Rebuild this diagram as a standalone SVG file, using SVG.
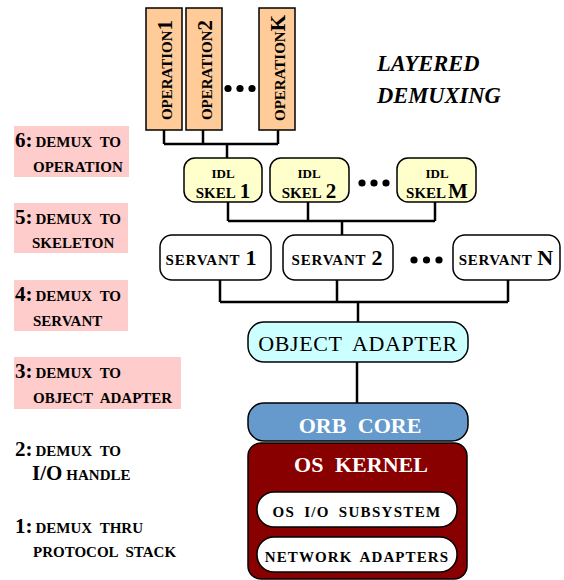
<svg xmlns="http://www.w3.org/2000/svg" width="564" height="580" viewBox="0 0 564 580">
<style>
  .t { font-family: "Liberation Serif", "Times New Roman", serif; font-weight: bold; fill: #000; }
  .big { font-size: 21px; }
  .sm { font-size: 15px; }
  .lbl { fill: #FFCCCC; }
  .op { fill: #FFCC99; stroke: #000; stroke-width: 1.5; }
  .skel { fill: #FFFFCC; stroke: #000; stroke-width: 1.5; }
  .srv { fill: #FFFFFF; stroke: #000; stroke-width: 1.5; }
  .conn { fill: none; stroke: #000; stroke-width: 2.5; }
  .dot { fill: #000; }
  .w { fill: #FFFFFF; }
</style>

<!-- Left labels -->
<g id="label6">
  <rect class="lbl" x="14" y="126" width="115" height="51"/>
  <text class="t" x="15" y="147"><tspan class="big">6:</tspan><tspan class="sm" dx="3" word-spacing="4">DEMUX TO</tspan></text>
  <text class="t sm" x="33" y="172">OPERATION</text>
</g>
<g id="label5">
  <rect class="lbl" x="14" y="203" width="114" height="50"/>
  <text class="t" x="15" y="224"><tspan class="big">5:</tspan><tspan class="sm" dx="3" word-spacing="4">DEMUX TO</tspan></text>
  <text class="t sm" x="32" y="248">SKELETON</text>
</g>
<g id="label4">
  <rect class="lbl" x="14" y="280" width="114" height="51"/>
  <text class="t" x="15" y="301"><tspan class="big">4:</tspan><tspan class="sm" dx="3" word-spacing="4">DEMUX TO</tspan></text>
  <text class="t sm" x="33" y="326">SERVANT</text>
</g>
<g id="label3">
  <rect class="lbl" x="14" y="357" width="167" height="52"/>
  <text class="t" x="15" y="378"><tspan class="big">3:</tspan><tspan class="sm" dx="3" word-spacing="4">DEMUX TO</tspan></text>
  <text class="t sm" x="33" y="403" word-spacing="4">OBJECT ADAPTER</text>
</g>
<g id="label2">
  <text class="t" x="15" y="456"><tspan class="big">2:</tspan><tspan class="sm" dx="3" word-spacing="4">DEMUX TO</tspan></text>
  <text class="t" x="32" y="480"><tspan class="big">I/O</tspan><tspan class="sm" dx="4">HANDLE</tspan></text>
</g>
<g id="label1">
  <text class="t" x="15" y="533"><tspan class="big">1:</tspan><tspan class="sm" dx="3" word-spacing="4">DEMUX THRU</tspan></text>
  <text class="t sm" x="33" y="557" word-spacing="4">PROTOCOL STACK</text>
</g>

<!-- Title -->
<g id="title">
  <text class="t" x="377" y="71" style="font-size:22.5px;font-style:italic">LAYERED</text>
  <text class="t" x="377" y="103" style="font-size:22.5px;font-style:italic">DEMUXING</text>
</g>

<!-- Connectors -->
<g id="connectors">
  <path class="conn" d="M164,130 V144 M203,130 V144 M278,130 V144 M164,144 H278 M227,144 V158"/>
  <path class="conn" d="M228,202 V221 M308,202 V221 M435,202 V221 M228,221 H435 M342,221 V235"/>
  <path class="conn" d="M220,280 V302 M337,280 V302 M508,280 V302 M220,302 H508 M358,302 V322"/>
  <path class="conn" d="M357,362 V403"/>
</g>

<!-- Operations -->
<g id="op1">
  <rect class="op" x="146" y="8" width="36" height="122"/>
  <text class="t" transform="translate(172,70) rotate(-90)" text-anchor="middle"><tspan class="sm">OPERATION</tspan><tspan style="font-size:21px">1</tspan></text>
</g>
<g id="op2">
  <rect class="op" x="186" y="8" width="36" height="122"/>
  <text class="t" transform="translate(212,70) rotate(-90)" text-anchor="middle"><tspan class="sm">OPERATION</tspan><tspan style="font-size:21px">2</tspan></text>
</g>
<g id="opdots">
  <circle class="dot" cx="228" cy="88.5" r="3.6"/>
  <circle class="dot" cx="240" cy="88.5" r="3.6"/>
  <circle class="dot" cx="252" cy="88.5" r="3.6"/>
</g>
<g id="opK">
  <rect class="op" x="259" y="8" width="36" height="122"/>
  <text class="t" transform="translate(285,68) rotate(-90)" text-anchor="middle"><tspan class="sm">OPERATION</tspan><tspan style="font-size:21px">K</tspan></text>
</g>

<!-- Skeletons -->
<g id="skel1">
  <rect class="skel" x="184" y="158" width="78" height="44" rx="11"/>
  <text class="t" x="223" y="178" text-anchor="middle" style="font-size:13px">IDL</text>
  <text class="t" x="223" y="198" text-anchor="middle"><tspan class="sm">SKEL</tspan><tspan dx="4" style="font-size:21px">1</tspan></text>
</g>
<g id="skel2">
  <rect class="skel" x="270" y="158" width="79" height="44" rx="11"/>
  <text class="t" x="309" y="178" text-anchor="middle" style="font-size:13px">IDL</text>
  <text class="t" x="309" y="198" text-anchor="middle"><tspan class="sm">SKEL</tspan><tspan dx="4" style="font-size:21px">2</tspan></text>
</g>
<g id="skeldots">
  <circle class="dot" cx="362" cy="183" r="3.6"/>
  <circle class="dot" cx="374" cy="183" r="3.6"/>
  <circle class="dot" cx="386" cy="183" r="3.6"/>
</g>
<g id="skelM">
  <rect class="skel" x="397" y="158" width="79" height="44" rx="11"/>
  <text class="t" x="437" y="178" text-anchor="middle" style="font-size:13px">IDL</text>
  <text class="t" x="437" y="198" text-anchor="middle"><tspan class="sm">SKEL</tspan><tspan dx="2" style="font-size:21px">M</tspan></text>
</g>

<!-- Servants -->
<g id="servant1">
  <rect class="srv" x="160" y="235" width="111" height="45" rx="12"/>
  <text class="t" x="211" y="265" text-anchor="middle"><tspan class="sm" letter-spacing="0.8">SERVANT</tspan><tspan dx="5" style="font-size:22px">1</tspan></text>
</g>
<g id="servant2">
  <rect class="srv" x="283" y="235" width="110" height="45" rx="12"/>
  <text class="t" x="337" y="265" text-anchor="middle"><tspan class="sm" letter-spacing="0.8">SERVANT</tspan><tspan dx="5" style="font-size:22px">2</tspan></text>
</g>
<g id="srvdots">
  <circle class="dot" cx="414" cy="260" r="3.6"/>
  <circle class="dot" cx="426.5" cy="260" r="3.6"/>
  <circle class="dot" cx="439" cy="260" r="3.6"/>
</g>
<g id="servantN">
  <rect class="srv" x="453" y="235" width="107" height="45" rx="12"/>
  <text class="t" x="506" y="265" text-anchor="middle"><tspan class="sm" letter-spacing="0.6">SERVANT</tspan><tspan dx="5" style="font-size:22px">N</tspan></text>
</g>

<!-- Object adapter -->
<g id="objectAdapter">
  <rect x="248" y="322" width="220" height="40" rx="16" fill="#CCFFFF" stroke="#000" stroke-width="1.5"/>
  <text x="358" y="351" text-anchor="middle" style="font-family:'Liberation Serif','Times New Roman',serif;font-size:22px" letter-spacing="0.6" word-spacing="5">OBJECT ADAPTER</text>
</g>

<!-- ORB core -->
<g id="orbCore">
  <rect x="248" y="403" width="220" height="38" rx="16" fill="#6699CC" stroke="#000" stroke-width="1.5"/>
  <text class="t w" x="360" y="433" text-anchor="middle" style="font-size:22px" word-spacing="6">ORB CORE</text>
</g>

<!-- OS kernel -->
<g id="osKernel">
  <rect x="248" y="443" width="219" height="136" rx="13" fill="#880000" stroke="#000" stroke-width="1.5"/>
  <text class="t w" x="361" y="472" text-anchor="middle" style="font-size:22px" word-spacing="6">OS KERNEL</text>
</g>
<g id="osIO">
  <rect class="srv" x="257" y="492" width="200" height="35" rx="17"/>
  <text class="t" x="357" y="517" text-anchor="middle" style="font-size:15px" letter-spacing="1.3" word-spacing="4">OS I/O SUBSYSTEM</text>
</g>
<g id="netAdapters">
  <rect class="srv" x="257" y="537" width="200" height="35" rx="17"/>
  <text class="t" x="357" y="562" text-anchor="middle" style="font-size:15px" letter-spacing="1.1" word-spacing="3">NETWORK ADAPTERS</text>
</g>
</svg>
